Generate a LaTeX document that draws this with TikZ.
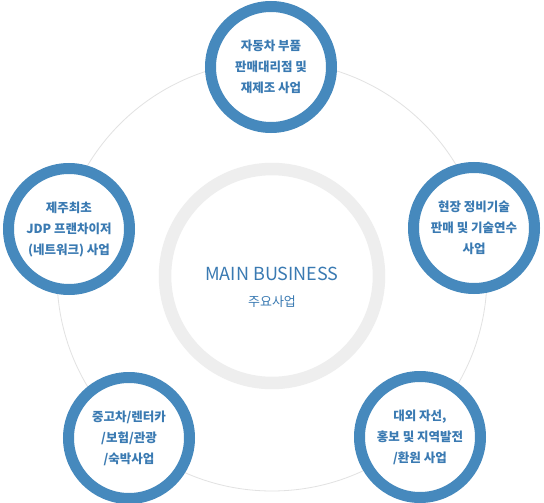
\documentclass[tikz,border=0pt]{standalone}
\usepackage{fontspec}
\usepackage{tikz}
\usepackage{xcolor}
\newfontfamily\kr{Noto Sans CJK KR}
\definecolor{bizBlue}{RGB}{70,137,189}
\definecolor{bizText}{RGB}{58,122,178}
\definecolor{ringGray}{RGB}{238,238,238}
\definecolor{orbitGray}{RGB}{226,226,226}
\tikzset{
  bizNode/.style={shape=circle,draw=bizBlue,line width=11pt,fill=white,minimum size=121pt,inner sep=0pt,align=center,text=bizText,font=\kr\bfseries\fontsize{12.5}{21}\selectfont},
  mainNode/.style={shape=circle,draw=ringGray,line width=12.5pt,fill=white,minimum size=214pt,inner sep=0pt},
  mainLabel/.style={draw=none,inner sep=0pt,text=bizText,align=center},
  orbitLink/.style={draw=orbitGray,line width=0.8pt}
}

\begin{document}
\begin{tikzpicture}[x=1pt,y=-1pt]
    \useasboundingbox[fill=white] (0,0) rectangle (544,503);

        \node (main) [mainNode] at (272,276) {};
        \node (title) [mainLabel,font=\kr\fontsize{18}{22}\selectfont] at (272,274) {MAIN BUSINESS};
        \node (sub) [mainLabel,font=\kr\fontsize{13}{16}\selectfont] at (272,302) {주요사업};

    \draw[orbitLink] (main.center) circle (215pt);

        \node (parts) [bizNode] at (271,67) {자동차 부품\\판매대리점 및\\재제조 사업};
        \node (jdp) [bizNode] at (69,229) {제주최초\\JDP 프랜차이저\\(네트워크) 사업};
        \node (tech) [bizNode] at (474,228) {현장 정비기술\\판매 및 기술연수\\사업};
        \node (rent) [bizNode] at (129,438) {중고차/렌터카\\/보험/관광\\/숙박사업};
        \node (csr) [bizNode] at (420,437) {대외 자선,\\홍보 및 지역발전\\/환원 사업};

\end{tikzpicture}
\end{document}
